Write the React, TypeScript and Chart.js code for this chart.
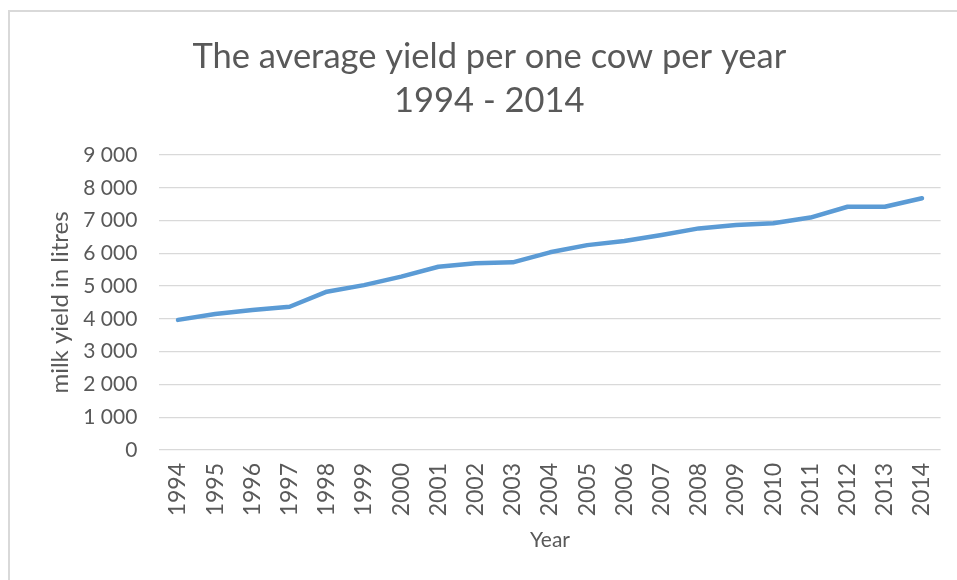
import React, { useEffect, useRef } from "react";
import { Chart, registerables } from "chart.js";

Chart.register(...registerables);

const years = ["1994","1995","1996","1997","1998","1999","2000","2001","2002","2003","2004","2005","2006","2007","2008","2009","2010","2011","2012","2013","2014"];
const milkYield = [3970, 4150, 4270, 4370, 4830, 5030, 5290, 5590, 5700, 5725, 6030, 6250, 6375, 6560, 6760, 6865, 6915, 7090, 7420, 7420, 7680];
const titleLines = ["The average yield per one cow per year", "1994 - 2014"];
const yTitle = "milk yield in litres";
const xTitle = "Year";

const FONT = "Lato, 'Open Sans', sans-serif";
const GREY = "#595959";

function fmt(v: number): string {
  if (v >= 1000) {
    return `${Math.floor(v / 1000)} ${String(v % 1000).padStart(3, "0")}`;
  }
  return String(v);
}

export default function App() {
  const ref = useRef<HTMLCanvasElement | null>(null);
  useEffect(() => {
    document.body.style.margin = "0";
    const ctx = ref.current!;
    const chart = new Chart(ctx, {
      type: "line",
      data: {
        labels: years,
        datasets: [
          {
            data: milkYield,
            borderColor: "#5B9BD5",
            backgroundColor: "#5B9BD5",
            borderWidth: 4.5,
            pointRadius: 0,
            tension: 0,
            borderCapStyle: "round",
            borderJoinStyle: "round",
          },
        ],
      },
      options: {
        responsive: false,
        animation: false,
        devicePixelRatio: 1,
        layout: { padding: { left: 38, right: 16.4, top: 0, bottom: 27 } },
        plugins: {
          legend: { display: false },
          tooltip: { enabled: false },
          title: {
            display: true,
            text: titleLines,
            color: GREY,
            font: { family: FONT, size: 34.5, weight: "normal", lineHeight: 1.275 },
            padding: { top: 35, bottom: 32 },
          },
        },
        scales: {
          x: {
            offset: true,
            afterFit: (scale: any) => {
              scale.height = 103;
              scale.paddingLeft = 0;
              scale.paddingRight = 0;
            },
            grid: { display: false, drawTicks: false },
            border: { display: false },
            ticks: {
              color: GREY,
              font: { family: FONT, size: 23 },
              minRotation: 90,
              maxRotation: 90,
              padding: 13,
              autoSkip: false,
            },
            title: {
              display: true,
              text: xTitle,
              color: GREY,
              font: { family: FONT, size: 21 },
              padding: { top: 0, bottom: 0 },
            },
          },
          y: {
            min: 0,
            max: 9000,
            afterFit: (scale: any) => {
              scale.width = 121.4;
            },
            grid: { color: "#d9d9d9", lineWidth: 1.3, drawTicks: false },
            border: { display: false },
            ticks: {
              stepSize: 1000,
              color: GREY,
              font: { family: FONT, size: 21 },
              padding: 22,
              callback: (v: any) => fmt(Number(v)),
            },
            title: {
              display: true,
              text: yTitle,
              color: GREY,
              font: { family: FONT, size: 24 },
              padding: { top: 7.6, bottom: 0 },
            },
          },
        },
      },
    } as any);
    return () => chart.destroy();
  }, []);

  return (
    <div style={{ position: "relative", width: 957, height: 580, overflow: "hidden", background: "#fff" }}>
      <div
        style={{
          position: "absolute",
          left: 8,
          top: 10,
          width: 949,
          height: 570,
          borderTop: "2px solid #d9d9d9",
          borderLeft: "2px solid #d9d9d9",
          boxSizing: "border-box",
        }}
      />
      <canvas ref={ref} width={957} height={580} style={{ position: "absolute", left: 0, top: 0 }} />
    </div>
  );
}
